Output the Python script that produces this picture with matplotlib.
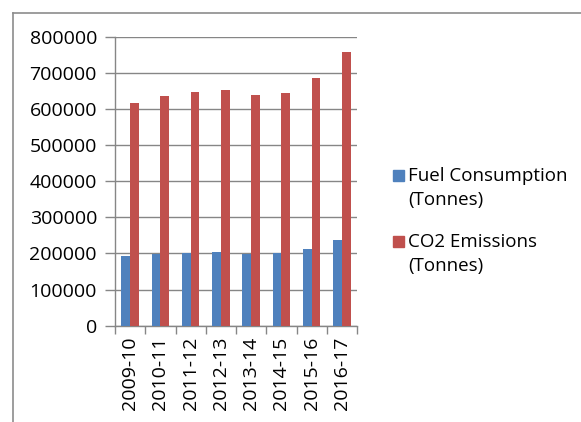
import matplotlib
matplotlib.use("Agg")
import matplotlib.pyplot as plt
from matplotlib.lines import Line2D
from matplotlib.patches import Rectangle
import numpy as np

plt.rcParams['font.family'] = ['Open Sans', 'DejaVu Sans']

categories = ["2009-10", "2010-11", "2011-12", "2012-13", "2013-14", "2014-15", "2015-16", "2016-17"]
fuel = [192000, 198000, 202000, 204000, 199000, 200000, 213000, 236000]
co2 = [616000, 635000, 647000, 653000, 639000, 643000, 685000, 758000]
series_names = ["Fuel Consumption\n(Tonnes)", "CO2 Emissions\n(Tonnes)"]
colors = ["#4F81BD", "#C0504D"]

W, H = 581, 422
fig = plt.figure(figsize=(W/100, H/100), dpi=100)
ax = fig.add_axes([115/W, 1-325.7/H, (357-115)/W, (325.7-36.7)/H])

x = np.arange(len(categories))
bw = 0.29
ax.bar(x - bw/2, fuel, bw, color=colors[0], label=series_names[0], zorder=3)
ax.bar(x + bw/2, co2, bw, color=colors[1], label=series_names[1], zorder=3)

ax.set_xlim(-0.5, len(categories) - 0.5)
ax.set_ylim(0, 800000)
ax.set_yticks(np.arange(0, 800001, 100000))
ax.set_yticklabels([str(v) for v in range(0, 800001, 100000)])
ax.yaxis.grid(True, color="#868686", linewidth=1.0, zorder=0)
ax.set_axisbelow(True)

ax.set_xticks(x)
ax.set_xticklabels(categories, rotation=90, va="top", ha="center")
ax.set_xticks(np.arange(-0.5, len(categories)), minor=True)
ax.tick_params(axis="x", which="major", length=0, pad=8, labelsize=14)
ax.tick_params(axis="x", which="minor", length=6, color="#868686", width=1)
ax.tick_params(axis="y", length=7, color="#868686", width=1, labelsize=14, pad=6)

for s in ["top", "right"]:
    ax.spines[s].set_visible(False)
for s in ["left", "bottom"]:
    ax.spines[s].set_color("#868686")
    ax.spines[s].set_linewidth(1.0)

# legend drawn manually so that the swatch aligns with the first text line
legend_tops = [167, 233]
swatch_tops = [170, 236]
for name, col, top, st in zip(series_names, colors, legend_tops, swatch_tops):
    fig.add_artist(Rectangle((393/W, 1-(st+11)/H), 11/W, 11/H, color=col,
                             transform=fig.transFigure))
    fig.text(408/W, 1-top/H, name, fontsize=13.5, va="top", ha="left",
             linespacing=1.45)

fig.add_artist(Line2D([13/W, 13/W], [0, 1-13/H], color="#8c8c8c", linewidth=1.2))
fig.add_artist(Line2D([13/W, 1], [1-13/H, 1-13/H], color="#8c8c8c", linewidth=1.2))

fig.savefig("out.png", dpi=100)
